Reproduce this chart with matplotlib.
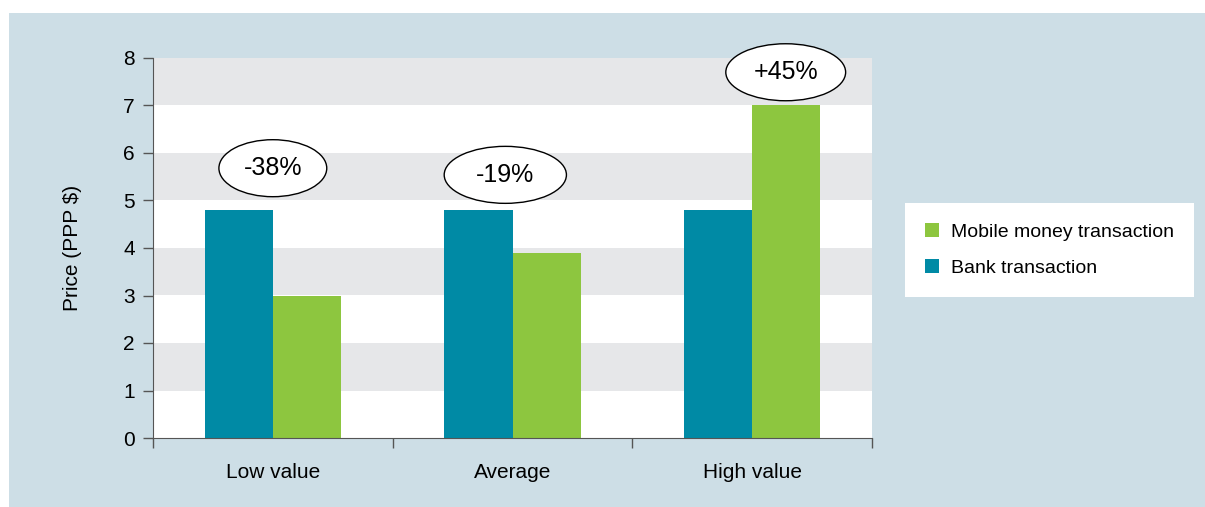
import matplotlib
matplotlib.use("Agg")
import matplotlib.pyplot as plt
from matplotlib.patches import Ellipse, Rectangle
import numpy as np

plt.rcParams['font.family'] = ['Liberation Sans Narrow', 'Liberation Sans', 'DejaVu Sans']

categories = ["Low value", "Average", "High value"]
bank = [4.8, 4.8, 4.8]
mobile = [3.0, 3.9, 7.0]
changes = ["-38%", "-19%", "+45%"]
label_y = [5.68, 5.54, 7.7]

panel_col = "#cddee6"
bank_col = "#008aa5"
mobile_col = "#8dc63f"
band_col = "#e6e7e9"

fig = plt.figure(figsize=(12.05, 5.07), dpi=100)
fig.patch.set_facecolor("white")
fig.add_artist(Rectangle((9 / 1205, 0), 1, 1 - 13 / 507, transform=fig.transFigure,
                         facecolor=panel_col, edgecolor="none", zorder=-10))

ax = fig.add_axes([153 / 1205, 1 - 438 / 507, (872 - 153) / 1205, (438 - 58) / 507])
ax.set_facecolor("white")

# alternating bands
for lo in range(1, 8, 2):
    ax.axhspan(lo, lo + 1, color=band_col, lw=0, zorder=0)

x = np.arange(len(categories))
w = 0.285
ax.bar(x - w / 2, bank, w, color=bank_col, label="Bank transaction", zorder=2)
ax.bar(x + w / 2, mobile, w, color=mobile_col, label="Mobile money transaction", zorder=2)

ax.set_xlim(-0.5, 2.5)
ax.set_ylim(0, 8)
ax.set_yticks(range(0, 9))
ax.tick_params(axis="y", labelsize=15, length=7, width=1, color="#555555", pad=6)
ax.set_xticks(x)
ax.set_xticklabels(categories, fontsize=15)
ax.tick_params(axis="x", length=0, pad=18)
ax.set_xticks([-0.5, 0.5, 1.5, 2.5], minor=True)
ax.tick_params(axis="x", which="minor", length=7, width=1, color="#555555")
for s in ["top", "right"]:
    ax.spines[s].set_visible(False)
for s in ["left", "bottom"]:
    ax.spines[s].set_color("#555555")
ax.set_ylabel("Price (PPP $)", fontsize=15, labelpad=30)

# change labels in ellipses
ell_w = [0.45, 0.51, 0.5]
for i, (txt, yy) in enumerate(zip(changes, label_y)):
    cx = x[i] if i < 2 else x[i] + 0.14
    if i == 1:
        cx = x[i] - 0.03
    e = Ellipse((cx, yy), ell_w[i], 1.2, facecolor="white", edgecolor="black",
                lw=1, zorder=5, clip_on=False)
    ax.add_patch(e)
    ax.text(cx, yy, txt, ha="center", va="center", fontsize=18, zorder=6)

h, l = ax.get_legend_handles_labels()
leg = fig.legend(h[::-1], l[::-1], loc="center left",
                 bbox_to_anchor=(905 / 1205, 1 - 250 / 507), fontsize=14,
                 frameon=True, fancybox=False, handlelength=0.7, handleheight=0.7,
                 borderpad=1.05, labelspacing=0.95, handletextpad=0.6, borderaxespad=0)
leg.get_frame().set_edgecolor("none")
leg.get_frame().set_facecolor("white")
leg.get_frame().set_alpha(1)

fig.savefig("out.png", dpi=100, facecolor=fig.get_facecolor())
